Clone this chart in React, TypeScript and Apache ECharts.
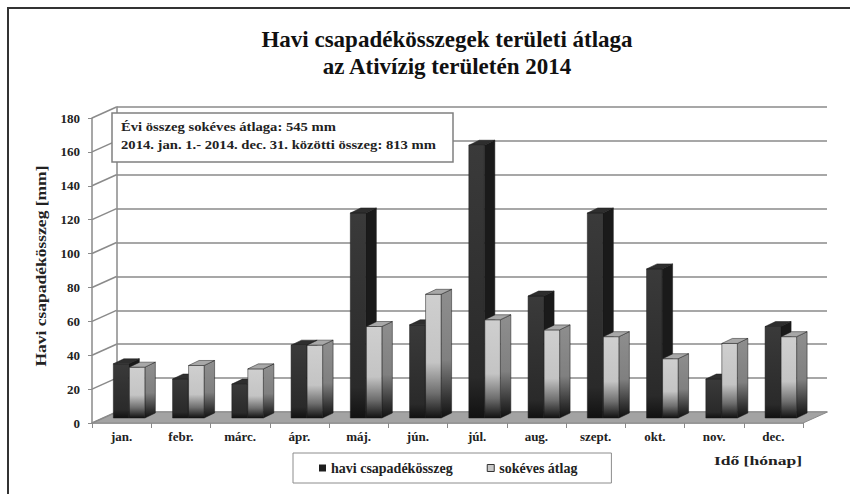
import React, { useEffect, useRef } from 'react';
import * as echarts from 'echarts';

// ---- data ----
const months = ['jan.', 'febr.', 'márc.', 'ápr.', 'máj.', 'jún.', 'júl.', 'aug.', 'szept.', 'okt.', 'nov.', 'dec.'];
const monthlyTotal = [32, 23, 20, 43, 121, 55, 161, 72, 121, 88, 23, 54];
const longTermAvg = [30, 31, 29, 43, 54, 73, 58, 52, 48, 35, 44, 48];
const yTicks = [0, 20, 40, 60, 80, 100, 120, 140, 160, 180];
const seriesNames = ['havi csapadékösszeg', 'sokéves átlag'];
const titleLines = ['Havi csapadékösszegek területi átlaga', 'az Ativízig területén 2014'];
const noteLines = ['Évi összeg sokéves átlaga: 545 mm', '2014. jan. 1.- 2014. dec. 31. közötti összeg: 813 mm'];
const yAxisName = 'Havi csapadékösszeg [mm]';
const xAxisName = 'Idő [hónap]';

const FONT = '"Liberation Serif", "Times New Roman", serif';
const DX = 24.5; // floor depth (px)
const DY = -11;
const GRID_COLOR = '#8a8a8a';

function makeBarRender(kind: 'dark' | 'light') {
  return (_params: any, api: any) => {
    const i = api.value(0);
    const v = api.value(1);
    const band = api.size([1, 0])[0];
    const base = api.coord([i, 0]);
    const top = api.coord([i, v]);
    const w = band * 0.262;
    const x0 = base[0] + band * (kind === 'dark' ? -0.14 : 0.13);
    const x1 = x0 + w;
    const yb = base[1] - 5;
    const yt = top[1] - 5;
    const dx = 10.5;
    const dy = -5;
    const G = echarts.graphic.LinearGradient;
    const frontFill =
      kind === 'dark'
        ? new G(0, 0, 0, 1, [
            { offset: 0, color: '#3a3a3a' },
            { offset: 0.85, color: '#2a2a2a' },
            { offset: 1, color: '#111111' },
          ])
        : new G(0, 0, 0, 1, [
            { offset: 0, color: '#cfcfcf' },
            { offset: 0.55, color: '#c4c4c4' },
            { offset: 0.8, color: '#6e6e6e' },
            { offset: 1, color: '#111111' },
          ]);
    const sideFill =
      kind === 'dark'
        ? '#1a1a1a'
        : new G(0, 0, 0, 1, [
            { offset: 0, color: '#8e8e8e' },
            { offset: 0.55, color: '#808080' },
            { offset: 0.85, color: '#333333' },
            { offset: 1, color: '#111111' },
          ]);
    const topFill = kind === 'dark' ? '#2e2e2e' : '#a8a8a8';
    return {
      type: 'group',
      children: [
        {
          type: 'polygon',
          shape: { points: [[x1, yt], [x1 + dx, yt + dy], [x1 + dx, yb + dy], [x1, yb]] },
          style: { fill: sideFill, stroke: '#1a1a1a', lineWidth: 0.5 },
        },
        {
          type: 'polygon',
          shape: { points: [[x0, yt], [x1, yt], [x1, yb], [x0, yb]] },
          style: { fill: frontFill, stroke: '#1a1a1a', lineWidth: 0.5 },
        },
        {
          type: 'polygon',
          shape: { points: [[x0, yt], [x0 + dx, yt + dy], [x1 + dx, yt + dy], [x1, yt]] },
          style: { fill: topFill, stroke: '#1a1a1a', lineWidth: 0.5 },
        },
      ],
    };
  };
}

export default function App() {
  const ref = useRef<HTMLDivElement>(null);

  useEffect(() => {
    if (!ref.current) return;
    const chart = echarts.init(ref.current, null, { renderer: 'svg' });

    const option: any = {
      animation: false,
      backgroundColor: '#ffffff',
      title: {
        text: titleLines.join('\n'),
        left: 447,
        top: 26,
        padding: 0,
        textAlign: 'center',
        textStyle: { fontFamily: FONT, fontWeight: 'bold', fontSize: 23, lineHeight: 27, color: '#111' },
      },
      legend: {
        left: 293,
        top: 453,
        padding: [8, 34, 8, 26],
        itemGap: 34,
        icon: 'rect',
        itemWidth: 7,
        itemHeight: 7,
        borderColor: '#8c8c8c',
        borderWidth: 1,
        textStyle: { fontFamily: FONT, fontWeight: 'bold', fontSize: 14, color: '#222' },
        data: [
          { name: seriesNames[0], itemStyle: { color: '#1e1e1e' } },
          { name: seriesNames[1], itemStyle: { color: '#c8c8c8', borderColor: '#333', borderWidth: 1 } },
        ],
      },
      grid: [
        // front plane
        { left: 92, right: 47, top: 118, bottom: 71 },
        // back wall
        { left: 116.5, right: 23, top: 107, bottom: 82 },
      ],
      xAxis: [
        {
          type: 'category',
          gridIndex: 0,
          data: months,
          boundaryGap: true,
          axisLine: { show: true, lineStyle: { color: GRID_COLOR, width: 1.5 } },
          axisTick: { show: true, length: 5, lineStyle: { color: GRID_COLOR } },
          axisLabel: { margin: 7, fontFamily: FONT, fontWeight: 'bold', fontSize: 13, color: '#222' },
          splitLine: { show: false },
        },
        {
          type: 'category',
          gridIndex: 1,
          data: months,
          show: false,
        },
      ],
      yAxis: [
        {
          type: 'value',
          gridIndex: 0,
          min: yTicks[0],
          max: yTicks[yTicks.length - 1],
          interval: yTicks[1] - yTicks[0],
          axisLine: { show: true, lineStyle: { color: GRID_COLOR, width: 1.5 } },
          axisTick: { show: true, length: 4, lineStyle: { color: GRID_COLOR } },
          axisLabel: { margin: 12, fontFamily: FONT, fontWeight: 'bold', fontSize: 13, color: '#222' },
          splitLine: { show: false },
        },
        {
          type: 'value',
          gridIndex: 1,
          min: yTicks[0],
          max: yTicks[yTicks.length - 1],
          interval: yTicks[1] - yTicks[0],
          axisLine: { show: true, lineStyle: { color: GRID_COLOR, width: 1.5 } },
          axisTick: { show: false },
          axisLabel: { show: false },
          splitLine: { show: true, lineStyle: { color: GRID_COLOR, width: 1.5 } },
        },
      ],
      series: [
        {
          type: 'custom',
          name: 'floor',
          xAxisIndex: 0,
          yAxisIndex: 0,
          clip: false,
          silent: true,
          encode: { x: 0, y: 1 },
          data: [[0, 0]],
          renderItem: (_p: any, api: any) => {
            const band = api.size([1, 0])[0];
            const l = api.coord([0, 0]);
            const r = api.coord([months.length - 1, 0]);
            const xl = l[0] - band / 2;
            const xr = r[0] + band / 2;
            const y = l[1];
            return {
              type: 'polygon',
              shape: { points: [[xl, y], [xr, y], [xr + DX, y + DY], [xl + DX, y + DY]] },
              style: { fill: '#a3a3a3', stroke: '#8a8a8a', lineWidth: 1 },
            };
          },
        },
        {
          type: 'custom',
          name: 'wall',
          xAxisIndex: 0,
          yAxisIndex: 0,
          clip: false,
          silent: true,
          encode: { x: 0, y: 1 },
          data: yTicks.map((v) => [0, v]),
          renderItem: (_p: any, api: any) => {
            const band = api.size([1, 0])[0];
            const p = api.coord([0, api.value(1)]);
            const x = p[0] - band / 2;
            return {
              type: 'line',
              shape: { x1: x, y1: p[1], x2: x + DX, y2: p[1] + DY },
              style: { stroke: GRID_COLOR, lineWidth: 1.5 },
            };
          },
        },
        {
          type: 'custom',
          name: seriesNames[0],
          xAxisIndex: 0,
          yAxisIndex: 0,
          clip: false,
          encode: { x: 0, y: 1 },
          itemStyle: { color: '#1e1e1e' },
          data: monthlyTotal.map((v, i) => [i, v]),
          renderItem: makeBarRender('dark'),
        },
        {
          type: 'custom',
          name: seriesNames[1],
          xAxisIndex: 0,
          yAxisIndex: 0,
          clip: false,
          encode: { x: 0, y: 1 },
          itemStyle: { color: '#c8c8c8' },
          data: longTermAvg.map((v, i) => [i, v]),
          renderItem: makeBarRender('light'),
        },
      ],
      graphic: [
        {
          type: 'rect',
          silent: true,
          z: 100,
          shape: { x: 8, y: 8, width: 900, height: 600 },
          style: { fill: 'none', stroke: '#333', lineWidth: 2 },
        },
        {
          type: 'rect',
          z: 100,
          shape: { x: 112, y: 113, width: 341, height: 49 },
          style: { fill: '#ffffff', stroke: '#808080', lineWidth: 1.5 },
        },
        ...noteLines.map((t, k) => ({
          type: 'text',
          z: 101,
          x: 121,
          y: 127 + k * 18,
          scaleX: 1.22,
          style: {
            text: t,
            font: `bold 12px ${FONT}`,
            fill: '#222',
            textAlign: 'left',
            align: 'left',
            textVerticalAlign: 'middle',
            verticalAlign: 'middle',
          },
        })),
        {
          type: 'text',
          z: 101,
          x: 41,
          y: 266,
          rotation: Math.PI / 2,
          scaleX: 1.25,
          style: {
            text: yAxisName,
            font: `bold 14px ${FONT}`,
            fill: '#222',
            textAlign: 'center',
            align: 'center',
            textVerticalAlign: 'middle',
            verticalAlign: 'middle',
          },
        },
        {
          type: 'text',
          z: 101,
          x: 758,
          y: 460,
          scaleX: 1.35,
          style: {
            text: xAxisName,
            font: `bold 13px ${FONT}`,
            fill: '#222',
            textAlign: 'center',
            align: 'center',
            textVerticalAlign: 'middle',
            verticalAlign: 'middle',
          },
        },
      ],
    };

    chart.setOption(option);
    return () => chart.dispose();
  }, []);

  return (
    <div
      ref={ref}
      style={{ position: 'fixed', left: 0, top: 0, width: 850, height: 494, background: '#fff' }}
    />
  );
}
